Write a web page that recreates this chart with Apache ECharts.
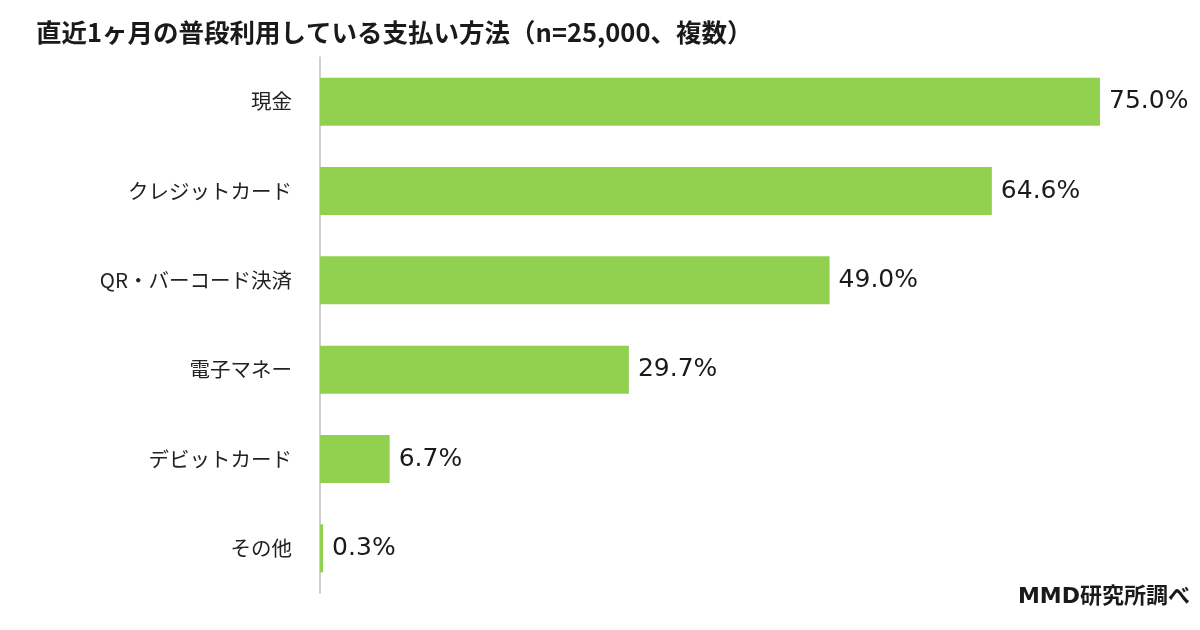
<!DOCTYPE html>
<html>
<head>
<meta charset="utf-8">
<script src="https://cdn.jsdelivr.net/npm/echarts@6/dist/echarts.min.js"></script>
<style>html,body{margin:0;padding:0;background:#fff}#c{width:1200px;height:630px}</style>
</head>
<body>
<div id="c"></div>
<script>
const categories = ['現金', 'クレジットカード', 'QR・バーコード決済', '電子マネー', 'デビットカード', 'その他'];
const values = [75.0, 64.6, 49.0, 29.7, 6.7, 0.3];
const titleText = '直近1ヶ月の普段利用している支払い方法（n=25,000、複数）';
const sourceText = 'MMD研究所調べ';

const chart = echarts.init(document.getElementById('c'));
chart.setOption({
  backgroundColor: '#ffffff',
  animation: false,
  title: {
    text: titleText,
    left: 31,
    top: 15,
    textStyle: { fontFamily: 'Noto Sans CJK JP', fontSize: 25.5, fontWeight: 'bold', color: '#1a1a1a' }
  },
  graphic: [{
    type: 'text',
    right: 10,
    top: 586,
    style: { text: sourceText, font: 'bold 22px "DejaVu Sans", "Noto Sans CJK JP"', fill: '#1a1a1a' }
  }],
  grid: { left: 320, right: 100, top: 57, bottom: 37 },
  xAxis: {
    type: 'value', min: 0, max: 75,
    show: false
  },
  yAxis: {
    type: 'category',
    data: categories,
    inverse: true,
    axisLine: { show: true, lineStyle: { color: '#bfbfbf', width: 1.5 } },
    axisTick: { show: false },
    axisLabel: { margin: 28, fontSize: 20.5, color: '#222', fontFamily: 'Noto Sans CJK JP' }
  },
  series: [{
    type: 'bar',
    data: values,
    barWidth: 48,
    itemStyle: { color: '#92D050' },
    label: {
      show: true,
      position: 'right',
      distance: 9,
      formatter: p => p.value.toFixed(1) + '%',
      fontFamily: 'DejaVu Sans',
      fontSize: 25,
      color: '#1a1a1a'
    }
  }]
});
</script>
</body>
</html>
